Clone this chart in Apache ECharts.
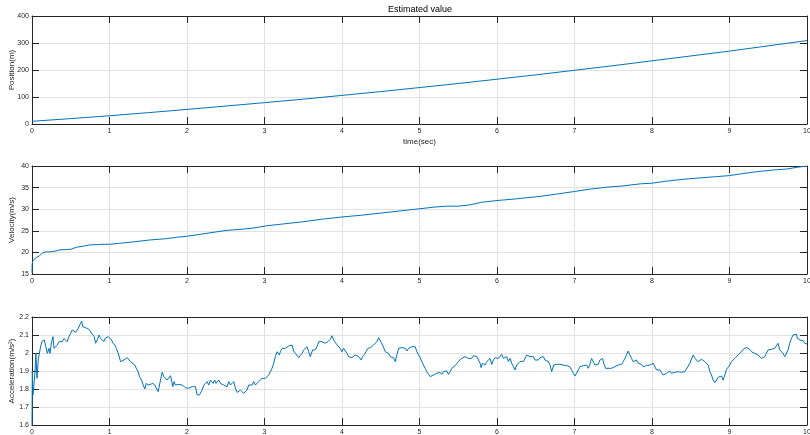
<!DOCTYPE html>
<html>
<head>
<meta charset="utf-8">
<script src="https://cdn.jsdelivr.net/npm/echarts@6/dist/echarts.min.js"></script>
<style>
  html, body { margin: 0; padding: 0; background: #ffffff; }
  #chart { width: 810px; height: 435px; }
</style>
</head>
<body>
<div id="chart"></div>
<script>
// Estimated position, velocity and acceleration over a 10 s run.

const timeTicks = [0, 1, 2, 3, 4, 5, 6, 7, 8, 9, 10];

const posTime = [0, 0.5, 1, 1.5, 2, 2.5, 3, 3.5, 4, 4.5, 5, 5.5, 6, 6.5, 7, 7.5, 8, 8.5, 9, 9.5, 10];
const posValue = [10, 20, 30.5, 42, 54, 66.5, 79, 92, 106, 120, 135, 150, 166, 182, 199, 216, 234, 252, 270, 289.5, 309];

const velTime = [0, 0.002, 0.011, 0.032, 0.054, 0.075, 0.097, 0.118, 0.14, 0.161, 0.183, 0.226, 0.269, 0.312, 0.355,
  0.441, 0.506, 0.571, 0.657, 0.743, 0.829, 0.915, 1.001, 1.13, 1.303, 1.518, 1.733, 1.863, 1.992, 2.164, 2.336,
  2.508, 2.681, 2.853, 3.025, 3.25, 3.5, 3.75, 4.0, 4.25, 4.5, 4.75, 5.0, 5.2, 5.35, 5.5, 5.65, 5.8, 6.0, 6.25,
  6.557, 6.77, 7.0, 7.2, 7.42, 7.63, 7.85, 8.0, 8.19, 8.41, 8.62, 8.84, 9.0, 9.14, 9.36, 9.57, 9.74, 9.87, 10.0];
const velValue = [15.23, 17.29, 18.06, 18.44, 18.82, 19.05, 19.2, 19.59, 19.97, 20.2, 20.12, 20.12, 20.2, 20.35, 20.58,
  20.66, 20.73, 21.19, 21.42, 21.73, 21.8, 21.88, 21.88, 22.11, 22.42, 22.87, 23.18, 23.49, 23.72, 24.17, 24.63,
  25.09, 25.32, 25.63, 26.16, 26.6, 27.1, 27.7, 28.2, 28.6, 29.1, 29.6, 30.1, 30.5, 30.7, 30.7, 31.0, 31.6, 32.0, 32.4,
  32.97, 33.5, 34.1, 34.65, 35.1, 35.4, 35.87, 36.02, 36.5, 36.94, 37.25, 37.55, 37.78, 38.16, 38.7, 39.08, 39.3, 39.7, 40.0];

const accTime = [0, 0.004, 0.013, 0.039, 0.05, 0.064, 0.082, 0.099, 0.116, 0.133, 0.159, 0.176, 0.198, 0.219, 0.232,
  0.253, 0.271, 0.284, 0.305, 0.326, 0.348, 0.369, 0.391, 0.412, 0.434, 0.455, 0.477, 0.498, 0.52, 0.541, 0.563,
  0.584, 0.606, 0.627, 0.64, 0.657, 0.683, 0.713, 0.743, 0.769, 0.786, 0.803, 0.82, 0.842, 0.863, 0.885, 0.906,
  0.928, 0.941, 0.958, 0.984, 1.001, 1.027, 1.044, 1.07, 1.087, 1.113, 1.143, 1.164, 1.186, 1.207, 1.229, 1.25,
  1.271, 1.293, 1.327, 1.345, 1.37, 1.387, 1.413, 1.435, 1.456, 1.473, 1.499, 1.529, 1.559, 1.585, 1.602, 1.628,
  1.658, 1.68, 1.701, 1.723, 1.744, 1.766, 1.787, 1.8, 1.817, 1.834, 1.851, 1.873, 1.894, 1.916, 1.937, 1.959,
  1.98, 2.002, 2.023, 2.045, 2.066, 2.088, 2.109, 2.131, 2.144, 2.161, 2.182, 2.195, 2.217, 2.238, 2.259, 2.281,
  2.302, 2.315, 2.337, 2.358, 2.375, 2.393, 2.41, 2.431, 2.453, 2.474, 2.496, 2.517, 2.539, 2.56, 2.582, 2.603,
  2.625, 2.646, 2.668, 2.689, 2.711, 2.732, 2.753, 2.775, 2.796, 2.818, 2.839, 2.861, 2.882, 2.904, 2.925, 2.947,
  2.968, 2.99, 3.011, 3.033, 3.054, 3.076, 3.097, 3.119, 3.14, 3.162, 3.174, 3.192, 3.204, 3.226, 3.247, 3.269,
  3.29, 3.312, 3.333, 3.355, 3.376, 3.398, 3.419, 3.441, 3.462, 3.484, 3.505, 3.527, 3.548, 3.57, 3.591, 3.604,
  3.621, 3.638, 3.656, 3.677, 3.699, 3.72, 3.742, 3.763, 3.785, 3.797, 3.819, 3.836, 3.853, 3.87, 3.888, 3.905,
  3.922, 3.939, 3.956, 3.978, 3.999, 4.021, 4.042, 4.064, 4.085, 4.107, 4.128, 4.15, 4.171, 4.193, 4.214, 4.236,
  4.248, 4.266, 4.291, 4.309, 4.334, 4.352, 4.369, 4.386, 4.407, 4.429, 4.45, 4.472, 4.489, 4.506, 4.523, 4.541,
  4.558, 4.579, 4.601, 4.622, 4.644, 4.665, 4.687, 4.708, 4.73, 4.751, 4.772, 4.794, 4.815, 4.837, 4.858, 4.88,
  4.901, 4.923, 4.944, 4.966, 4.987, 5.009, 5.03, 5.051, 5.073, 5.094, 5.116, 5.137, 5.159, 5.18, 5.202, 5.223,
  5.245, 5.266, 5.288, 5.309, 5.331, 5.352, 5.374, 5.395, 5.417, 5.438, 5.46, 5.481, 5.502, 5.524, 5.545, 5.567,
  5.588, 5.61, 5.631, 5.653, 5.674, 5.696, 5.717, 5.739, 5.76, 5.782, 5.795, 5.812, 5.829, 5.846, 5.868, 5.889,
  5.911, 5.932, 5.954, 5.975, 5.996, 6.018, 6.039, 6.061, 6.082, 6.104, 6.125, 6.147, 6.168, 6.19, 6.211, 6.233,
  6.254, 6.276, 6.297, 6.319, 6.34, 6.362, 6.383, 6.405, 6.426, 6.448, 6.469, 6.491, 6.512, 6.533, 6.555, 6.576,
  6.598, 6.619, 6.641, 6.662, 6.684, 6.705, 6.714, 6.731, 6.748, 6.769, 6.791, 6.812, 6.834, 6.855, 6.877, 6.898,
  6.92, 6.941, 6.963, 6.984, 7.006, 7.027, 7.049, 7.07, 7.092, 7.113, 7.135, 7.156, 7.177, 7.199, 7.22, 7.242,
  7.263, 7.285, 7.306, 7.328, 7.349, 7.362, 7.384, 7.401, 7.418, 7.435, 7.457, 7.478, 7.5, 7.521, 7.543, 7.564,
  7.586, 7.607, 7.629, 7.65, 7.671, 7.693, 7.714, 7.736, 7.757, 7.779, 7.8, 7.822, 7.843, 7.865, 7.886, 7.908,
  7.929, 7.951, 7.972, 7.994, 8.015, 8.037, 8.058, 8.08, 8.101, 8.122, 8.144, 8.165, 8.187, 8.208, 8.23, 8.251,
  8.273, 8.294, 8.316, 8.337, 8.359, 8.38, 8.402, 8.424, 8.446, 8.488, 8.531, 8.553, 8.596, 8.639, 8.682, 8.725,
  8.746, 8.768, 8.789, 8.811, 8.832, 8.854, 8.875, 8.897, 8.918, 8.94, 8.961, 8.983, 9.004, 9.025, 9.047, 9.068,
  9.09, 9.111, 9.133, 9.154, 9.176, 9.197, 9.219, 9.24, 9.262, 9.283, 9.305, 9.326, 9.347, 9.369, 9.39, 9.412,
  9.433, 9.455, 9.476, 9.498, 9.519, 9.541, 9.562, 9.584, 9.605, 9.627, 9.648, 9.67, 9.691, 9.713, 9.734, 9.756,
  9.777, 9.799, 9.82, 9.842, 9.863, 9.876, 9.893, 9.91, 9.927, 9.949, 9.97, 10.0];
const accValue = [1.6, 1.9, 1.767, 1.896, 2.0, 1.859, 1.97, 1.98, 2.044, 2.067, 2.072, 2.063, 1.998, 2.026, 1.998,
  2.063, 2.091, 2.026, 2.026, 2.044, 2.063, 2.072, 2.063, 2.081, 2.072, 2.063, 2.091, 2.109, 2.128, 2.119, 2.115,
  2.128, 2.146, 2.165, 2.178, 2.146, 2.141, 2.137, 2.128, 2.109, 2.1, 2.091, 2.054, 2.072, 2.1, 2.081, 2.072,
  2.063, 2.081, 2.081, 2.091, 2.085, 2.072, 2.054, 2.044, 2.026, 1.998, 1.952, 1.943, 1.961, 1.97, 1.974, 1.97,
  1.952, 1.943, 1.933, 1.915, 1.896, 1.869, 1.85, 1.822, 1.8, 1.831, 1.822, 1.826, 1.831, 1.822, 1.831, 1.785,
  1.85, 1.893, 1.869, 1.859, 1.85, 1.841, 1.874, 1.85, 1.813, 1.841, 1.822, 1.831, 1.826, 1.819, 1.822, 1.813,
  1.807, 1.8, 1.804, 1.807, 1.813, 1.819, 1.813, 1.767, 1.757, 1.767, 1.776, 1.794, 1.822, 1.831, 1.841, 1.822,
  1.85, 1.859, 1.831, 1.85, 1.831, 1.841, 1.85, 1.831, 1.841, 1.822, 1.831, 1.813, 1.841, 1.822, 1.831, 1.841,
  1.804, 1.781, 1.776, 1.794, 1.789, 1.776, 1.767, 1.794, 1.822, 1.813, 1.822, 1.841, 1.822, 1.831, 1.841, 1.85,
  1.859, 1.85, 1.859, 1.856, 1.878, 1.887, 1.915, 1.943, 1.98, 2.007, 1.998, 1.989, 2.007, 2.026, 2.03, 2.026,
  2.035, 2.039, 2.035, 2.044, 2.011, 1.998, 1.989, 1.974, 1.985, 1.998, 2.017, 2.026, 2.035, 2.007, 1.98, 1.974,
  2.017, 2.026, 2.017, 2.035, 2.063, 2.072, 2.063, 2.072, 2.054, 2.048, 2.063, 2.072, 2.078, 2.096, 2.078, 2.063,
  2.054, 2.044, 2.035, 2.026, 2.007, 2.026, 2.017, 1.998, 1.98, 1.989, 1.974, 1.98, 1.989, 1.998, 1.98, 1.989,
  1.961, 1.98, 1.993, 2.007, 2.026, 2.017, 2.03, 2.026, 2.044, 2.054, 2.063, 2.085, 2.091, 2.059, 2.044, 2.026,
  2.007, 2.017, 1.998, 1.98, 1.97, 1.974, 1.952, 1.989, 2.026, 2.017, 2.03, 2.02, 2.026, 2.011, 2.026, 2.022,
  2.035, 2.026, 2.035, 2.007, 1.989, 1.974, 1.952, 1.933, 1.915, 1.896, 1.887, 1.869, 1.863, 1.878, 1.874, 1.887,
  1.878, 1.893, 1.881, 1.896, 1.887, 1.9, 1.881, 1.896, 1.915, 1.911, 1.93, 1.933, 1.952, 1.961, 1.97, 1.967,
  1.98, 1.985, 1.97, 1.98, 1.97, 1.985, 1.989, 1.98, 1.97, 1.943, 1.919, 1.943, 1.952, 1.933, 1.952, 1.961,
  1.97, 1.937, 1.961, 1.974, 1.98, 1.97, 1.98, 1.993, 1.97, 1.98, 1.98, 1.952, 1.97, 1.943, 1.933, 1.906,
  1.933, 1.924, 1.952, 1.943, 1.952, 1.97, 1.989, 1.998, 1.98, 1.97, 1.98, 1.961, 1.97, 1.961, 1.974, 1.97,
  1.98, 1.961, 1.97, 1.952, 1.933, 1.896, 1.906, 1.933, 1.943, 1.937, 1.943, 1.937, 1.943, 1.933, 1.937, 1.93,
  1.933, 1.924, 1.915, 1.887, 1.872, 1.878, 1.906, 1.924, 1.919, 1.93, 1.924, 1.933, 1.915, 1.937, 1.97, 1.952,
  1.933, 1.924, 1.937, 1.961, 1.956, 1.97, 1.933, 1.915, 1.906, 1.915, 1.909, 1.915, 1.911, 1.924, 1.919, 1.933,
  1.924, 1.937, 1.952, 1.97, 1.98, 2.011, 1.989, 1.97, 1.952, 1.943, 1.961, 1.943, 1.933, 1.937, 1.924, 1.933,
  1.93, 1.924, 1.933, 1.924, 1.943, 1.933, 1.906, 1.915, 1.906, 1.896, 1.878, 1.869, 1.887, 1.881, 1.9, 1.887,
  1.896, 1.893, 1.9, 1.896, 1.906, 1.893, 1.896, 1.896, 1.906, 1.943, 1.989, 1.97, 1.952, 1.965, 1.952, 1.933,
  1.896, 1.878, 1.85, 1.835, 1.85, 1.865, 1.859, 1.872, 1.85, 1.878, 1.909, 1.915, 1.933, 1.952, 1.957, 1.97,
  1.98, 1.989, 1.998, 2.007, 2.02, 2.026, 2.031, 2.026, 2.02, 2.007, 2.002, 1.998, 1.994, 1.989, 1.98, 1.97,
  1.965, 1.98, 1.998, 2.017, 2.026, 2.02, 2.017, 2.026, 2.031, 2.054, 2.017, 2.007, 1.998, 1.98, 1.97, 2.017,
  2.054, 2.081, 2.1, 2.106, 2.104, 2.081, 2.091, 2.072, 2.063, 2.069, 2.054, 2.05];

const posTicks = [0, 100, 200, 300, 400];
const velTicks = [15, 20, 25, 30, 35, 40];
const accTicks = [1.6, 1.7, 1.8, 1.9, 2.0, 2.1, 2.2];

const ink = '#262626';
const gridGray = '#e2e2e2';
const lineBlue = '#0072BD';
const font = 'Liberation Sans, Arial, Helvetica, sans-serif';

function zip(xs, ys) { return xs.map((x, i) => [x, ys[i]]); }

const panels = [
  { top: 16, ticks: posTicks, name: 'Position(m)', data: zip(posTime, posValue), xName: 'time(sec)' },
  { top: 166, ticks: velTicks, name: 'Velocity(m/s)', data: zip(velTime, velValue) },
  { top: 317, ticks: accTicks, name: 'Acceleration(m/s²)', data: zip(accTime, accValue) }
];

const grids = [], xAxes = [], yAxes = [], series = [];
panels.forEach((p, i) => {
  grids.push({ left: 32, right: 3, top: p.top, height: 108, containLabel: false, outerBoundsMode: 'none' });
  const lineStyle = { color: ink, width: 1 };
  const step = p.ticks[1] - p.ticks[0];
  // bottom axis with labels and grid lines
  xAxes.push({
    type: 'value', gridIndex: i, position: 'bottom', min: timeTicks[0], max: timeTicks[timeTicks.length - 1], interval: 1,
    axisLine: { show: true, onZero: false, lineStyle },
    axisTick: { show: true, inside: true, length: 7, lineStyle },
    axisLabel: { show: true, fontSize: 7, color: ink, fontFamily: font, margin: 4 },
    splitLine: { show: true, lineStyle: { color: gridGray, width: 1 } },
    name: p.xName || '', nameLocation: 'middle', nameGap: 14, nameMoveOverlap: false,
    nameTextStyle: { fontSize: 8, color: ink, fontFamily: font }
  });
  // top edge of the box
  xAxes.push({
    type: 'value', gridIndex: i, position: 'top', min: timeTicks[0], max: timeTicks[timeTicks.length - 1], interval: 1,
    axisLine: { show: true, onZero: false, lineStyle },
    axisTick: { show: true, inside: true, length: 7, lineStyle },
    axisLabel: { show: false }, splitLine: { show: false }
  });
  yAxes.push({
    type: 'value', gridIndex: i, position: 'left', min: p.ticks[0], max: p.ticks[p.ticks.length - 1], interval: step,
    axisLine: { show: true, onZero: false, lineStyle },
    axisTick: { show: true, inside: true, length: 7, lineStyle },
    axisLabel: { show: true, fontSize: 7, color: ink, fontFamily: font, margin: 3,
      formatter: v => String(Math.round(v * 10) / 10) },
    splitLine: { show: true, lineStyle: { color: gridGray, width: 1 } },
    name: p.name, nameLocation: 'middle', nameGap: 16, nameMoveOverlap: false,
    nameTextStyle: { fontSize: 8, color: ink, fontFamily: font }
  });
  // right edge of the box
  yAxes.push({
    type: 'value', gridIndex: i, position: 'right', min: p.ticks[0], max: p.ticks[p.ticks.length - 1], interval: step,
    axisLine: { show: true, onZero: false, lineStyle },
    axisTick: { show: true, inside: true, length: 7, lineStyle },
    axisLabel: { show: false }, splitLine: { show: false }
  });
  series.push({
    type: 'line', xAxisIndex: i * 2, yAxisIndex: i * 2, data: p.data,
    showSymbol: false, symbol: 'none', clip: true,
    lineStyle: { color: lineBlue, width: 1 }, z: 3
  });
});

const chart = echarts.init(document.getElementById('chart'), null, { renderer: 'canvas' });
chart.setOption({
  animation: false,
  backgroundColor: '#ffffff',
  title: {
    text: 'Estimated value', left: 420, top: 5, padding: 0, textAlign: 'center',
    textStyle: { fontSize: 9, fontWeight: 'normal', color: '#000000', fontFamily: font }
  },
  grid: grids,
  xAxis: xAxes,
  yAxis: yAxes,
  series
});
</script>
</body>
</html>
